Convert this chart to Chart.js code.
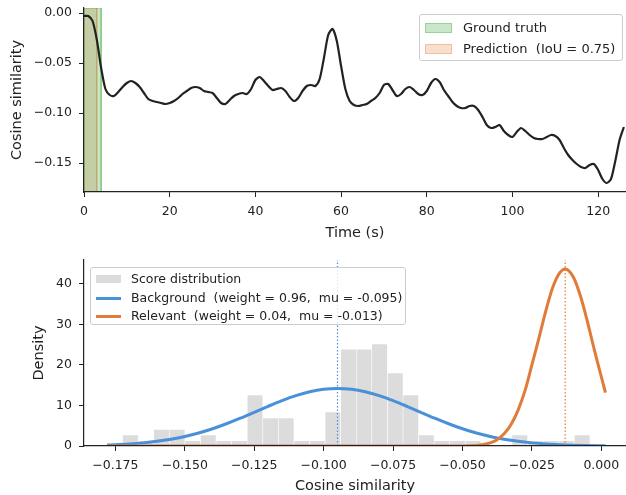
<!DOCTYPE html>
<html>
<head>
<meta charset="utf-8">
<script src="https://cdn.jsdelivr.net/npm/chart.js@4.4.1/dist/chart.umd.min.js"></script>
<style>
  body { margin: 0; background: #fff; font-family: "DejaVu Sans", sans-serif; color: #222; }
  #wrap { position: relative; width: 626px; height: 495px; overflow: hidden; }
  canvas { position: absolute; left: 0; }
  #topChart { top: 0; }
  #bottomChart { top: 247px; }
  .legend { position: absolute; background: rgba(255,255,255,0.8); border: 1px solid #cccccc; border-radius: 3px; box-sizing: border-box; }
  .row { position: absolute; left: 0; height: 16px; line-height: 16px; white-space: pre; }
  .patch { position: absolute; box-sizing: border-box; }
  .txt { position: absolute; top: 0; }
</style>
</head>
<body>
<div id="wrap">
  <canvas id="topChart" width="626" height="247"></canvas>
  <canvas id="bottomChart" width="626" height="248"></canvas>

  <div class="legend" style="left:419px; top:14px; width:204px; height:47px; font-size:13px;">
    <div class="row" style="top:5px;">
      <div class="patch" style="left:5px; top:3px; width:27px; height:10px; background:rgba(44,160,44,0.25); border:1px solid rgba(44,160,44,0.3);"></div>
      <span class="txt" style="left:43px;">Ground truth</span>
    </div>
    <div class="row" style="top:26px;">
      <div class="patch" style="left:5px; top:3px; width:27px; height:10px; background:rgba(224,123,57,0.25); border:1px solid rgba(224,123,57,0.3);"></div>
      <span class="txt" style="left:43px;">Prediction  (IoU = 0.75)</span>
    </div>
  </div>

  <div class="legend" style="left:90px; top:267px; width:316px; height:58px; font-size:12.5px;">
    <div class="row" style="top:3px;">
      <div class="patch" style="left:5px; top:4px; width:25px; height:8px; background:#dcdcdc;"></div>
      <span class="txt" style="left:40px;">Score distribution</span>
    </div>
    <div class="row" style="top:22px;">
      <div class="patch" style="left:5px; top:6.5px; width:25px; height:3px; background:#4a90d9;"></div>
      <span class="txt" style="left:40px;">Background  (weight = 0.96,  mu = -0.095)</span>
    </div>
    <div class="row" style="top:40px;">
      <div class="patch" style="left:5px; top:6.5px; width:25px; height:3px; background:#e07b39;"></div>
      <span class="txt" style="left:40px;">Relevant  (weight = 0.04,  mu = -0.013)</span>
    </div>
  </div>
</div>

<script>
// ---- top panel: cosine similarity over time ----
const times = [
  0,1,2,3,4,5,6,7,8,9,10,11,12,13,14,15,16,17,18,19,20,21,22,23,24,25,26,27,28,29,
  30,31,32,33,34,35,36,37,38,39,40,41,42,43,44,45,46,47,48,49,50,51,52,53,54,55,56,57,58,59,
  60,61,62,63,64,65,66,67,68,69,70,71,72,73,74,75,76,77,78,79,80,81,82,83,84,85,86,87,88,89,
  90,91,92,93,94,95,96,97,98,99,100,101,102,103,104,105,106,107,108,109,110,111,112,113,114,
  115,116,117,118,119,120,121,122,123,124,125,126
];
const scores = [
  -0.003,-0.003,-0.008,-0.027,-0.055,-0.076,-0.082,-0.083,-0.079,-0.074,
  -0.070,-0.068,-0.070,-0.074,-0.080,-0.086,-0.088,-0.089,-0.090,-0.091,
  -0.090,-0.088,-0.085,-0.081,-0.078,-0.075,-0.074,-0.075,-0.078,-0.079,
  -0.080,-0.085,-0.090,-0.091,-0.087,-0.083,-0.081,-0.080,-0.081,-0.076,
  -0.067,-0.064,-0.068,-0.073,-0.077,-0.076,-0.075,-0.078,-0.084,-0.088,
  -0.085,-0.078,-0.073,-0.072,-0.073,-0.066,-0.045,-0.022,-0.016,-0.028,
  -0.053,-0.076,-0.088,-0.092,-0.093,-0.092,-0.091,-0.088,-0.085,-0.080,
  -0.072,-0.071,-0.077,-0.083,-0.081,-0.076,-0.074,-0.077,-0.081,-0.082,
  -0.078,-0.070,-0.066,-0.069,-0.077,-0.083,-0.089,-0.093,-0.095,-0.095,
  -0.093,-0.093,-0.097,-0.104,-0.112,-0.115,-0.114,-0.112,-0.118,-0.122,
  -0.124,-0.119,-0.115,-0.118,-0.122,-0.125,-0.126,-0.126,-0.124,-0.122,
  -0.123,-0.127,-0.135,-0.142,-0.147,-0.151,-0.154,-0.155,-0.152,-0.151,
  -0.157,-0.166,-0.170,-0.166,-0.148,-0.127,-0.114
];
const groundTruth = [0, 4];   // seconds
const prediction = [0, 3];    // seconds
const topXTicks = [0, 20, 40, 60, 80, 100, 120];
const topYTicks = [-0.15, -0.10, -0.05, 0.00];

// ---- bottom panel: score histogram + mixture components ----
const binCenters = [
  -0.17520,-0.16959,-0.16398,-0.15837,-0.15276,-0.14715,-0.14154,-0.13593,
  -0.13032,-0.12471,-0.11910,-0.11349,-0.10788,-0.10227,-0.09666,-0.09105,
  -0.08544,-0.07983,-0.07422,-0.06861,-0.06300,-0.05739,-0.05178,-0.04617,
  -0.04056,-0.03495,-0.02934,-0.02373,-0.01812,-0.01251,-0.00690
];
const binDensity = [
  0, 2.7, 1.3, 4.1, 4.1, 1.3, 2.7, 1.3,
  1.3, 12.6, 6.9, 6.9, 1.3, 1.3, 8.4, 23.9,
  23.9, 25.2, 18.0, 12.6, 2.7, 1.3, 1.3, 1.3,
  0, 0, 2.7, 1.3, 1.3, 1.3, 2.7
];
const bgX = [
  -0.178,-0.175,-0.170,-0.165,-0.160,-0.155,-0.150,-0.145,-0.140,-0.135,-0.130,-0.125,
  -0.120,-0.115,-0.110,-0.105,-0.100,-0.095,-0.090,-0.085,-0.080,-0.075,-0.070,-0.065,
  -0.060,-0.055,-0.050,-0.045,-0.040,-0.035,-0.030,-0.025,-0.020,-0.015,-0.010,-0.005,0.0015
];
const bgDensity = [
  0.24,0.32,0.50,0.77,1.15,1.67,2.35,3.21,4.26,5.49,6.86,8.32,
  9.79,11.19,12.42,13.38,13.99,14.2,13.99,13.38,12.42,11.19,9.79,8.32,
  6.86,5.49,4.26,3.21,2.35,1.67,1.15,0.77,0.50,0.32,0.19,0.12,0.06
];
const relX = [
  -0.178,-0.100,-0.060,-0.050,-0.045,-0.0425,-0.040,-0.0375,-0.035,-0.0325,-0.030,-0.0275,
  -0.025,-0.0225,-0.020,-0.0175,-0.015,-0.013,-0.010,-0.0075,-0.005,-0.0025,0.000,0.0015
];
const relDensity = [
  0,0,0,0.02,0.15,0.35,0.77,1.57,3.0,5.3,8.8,13.6,
  20.0,26.5,33.3,39.1,42.7,43.7,41.6,37.0,30.7,23.7,17.1,13.2
];
const bgMu = -0.095;
const relMu = -0.013;
const bottomXTicks = [-0.175, -0.150, -0.125, -0.100, -0.075, -0.050, -0.025, 0.000];
const bottomYTicks = [0, 10, 20, 30, 40];

Chart.defaults.font.family = '"DejaVu Sans", sans-serif';
Chart.defaults.color = '#222';

const ink = '#222';
const fmt = (v, d) => (v < 0 ? '\u2212' : '') + Math.abs(v).toFixed(d);
const pts = (xs, ys) => xs.map((x, i) => ({ x: x, y: ys[i] }));

function axis(opts) {
  return Object.assign({
    type: 'linear',
    offset: false,
    grid: { display: true, offset: false, drawOnChartArea: false, drawTicks: true, tickLength: 5, tickColor: ink, tickWidth: 1 },
    border: { display: true, color: ink, width: 1.2, z: 1 },
  }, opts);
}
// fixed axis box sizes so the plot area lands where the reference has it
const fixW = w => s => { s.width = w; s.paddingTop = 0; s.paddingBottom = 0; };
const fixH = h => s => { s.height = h; s.paddingLeft = 0; s.paddingRight = 0; };

// top panel
const TOP_MIN = -0.179, TOP_MAX = 0.005;
const spanPts = ([a, b]) => [
  { x: a, y: TOP_MIN }, { x: a, y: TOP_MAX }, { x: b, y: TOP_MAX }, { x: b, y: TOP_MIN }
];

new Chart(document.getElementById('topChart'), {
  type: 'line',
  data: {
    datasets: [
      {
        data: pts(times, scores),
        borderColor: ink, borderWidth: 2.2, pointRadius: 0, tension: 0.25, fill: false, order: 0
      },
      {
        data: spanPts(groundTruth),
        borderColor: 'rgba(44,160,44,0.35)', borderWidth: 1,
        backgroundColor: 'rgba(44,160,44,0.25)', fill: 'start', pointRadius: 0, tension: 0, order: 1
      },
      {
        data: spanPts(prediction),
        borderColor: 'rgba(224,123,57,0.35)', borderWidth: 1,
        backgroundColor: 'rgba(224,123,57,0.25)', fill: 'start', pointRadius: 0, tension: 0, order: 2
      }
    ]
  },
  options: {
    responsive: false, animation: false, devicePixelRatio: 1,
    layout: { padding: { top: 8, right: 0, left: 0, bottom: 0 } },
    plugins: { legend: { display: false }, tooltip: { enabled: false } },
    scales: {
      x: axis({
        min: 0, max: 126.5,
        afterBuildTicks: s => { s.ticks = topXTicks.map(v => ({ value: v })); },
        afterFit: fixH(55),
        ticks: { callback: v => String(v), font: { size: 12.5 }, color: ink, padding: 7, maxRotation: 0, autoSkip: false },
        title: { display: true, text: 'Time (s)', font: { size: 14.5 }, color: ink, padding: { top: 0, bottom: 5 } }
      }),
      y: axis({
        min: TOP_MIN, max: TOP_MAX,
        afterBuildTicks: s => { s.ticks = topYTicks.map(v => ({ value: v })); },
        afterFit: fixW(84),
        ticks: { callback: v => fmt(v, 2), font: { size: 12.5 }, color: ink, padding: 7, autoSkip: false },
        title: { display: true, text: 'Cosine similarity', font: { size: 14.5 }, color: ink, padding: { top: 9, bottom: 0 } }
      })
    }
  }
});

// bottom panel
const BOT_MAX = 45.9;
new Chart(document.getElementById('bottomChart'), {
  type: 'line',
  data: {
    datasets: [
      {
        type: 'bar',
        data: pts(binCenters, binDensity),
        backgroundColor: '#dcdcdc', borderColor: '#ffffff',
        borderWidth: { left: 0.6, right: 0.6, top: 0.6, bottom: 0 },
        barPercentage: 1, categoryPercentage: 1, grouped: false, order: 4
      },
      {
        data: pts(bgX, bgDensity),
        borderColor: '#4a90d9', borderWidth: 3, pointRadius: 0, cubicInterpolationMode: 'monotone', fill: false, order: 3
      },
      {
        data: pts(relX, relDensity),
        borderColor: '#e07b39', borderWidth: 3, pointRadius: 0, cubicInterpolationMode: 'monotone', fill: false, order: 2
      },
      {
        data: [{ x: bgMu, y: 0 }, { x: bgMu, y: BOT_MAX }],
        borderColor: '#4a90d9', borderWidth: 1.2, borderDash: [1.5, 2], pointRadius: 0, fill: false, order: 1
      },
      {
        data: [{ x: relMu, y: 0 }, { x: relMu, y: BOT_MAX }],
        borderColor: '#e07b39', borderWidth: 1.2, borderDash: [1.5, 2], pointRadius: 0, fill: false, order: 0
      }
    ]
  },
  options: {
    responsive: false, animation: false, devicePixelRatio: 1,
    layout: { padding: { top: 13, right: 0, left: 0, bottom: 0 } },
    plugins: { legend: { display: false }, tooltip: { enabled: false } },
    scales: {
      x: axis({
        min: -0.1863, max: 0.0089,
        afterBuildTicks: s => { s.ticks = bottomXTicks.map(v => ({ value: v })); },
        afterFit: fixH(49),
        ticks: { callback: v => fmt(v, 3), font: { size: 12.5 }, color: ink, padding: 7, maxRotation: 0, autoSkip: false },
        title: { display: true, text: 'Cosine similarity', font: { size: 14.5 }, color: ink, padding: { top: 0, bottom: 0 } }
      }),
      y: axis({
        min: 0, max: BOT_MAX,
        afterBuildTicks: s => { s.ticks = bottomYTicks.map(v => ({ value: v })); },
        afterFit: fixW(84),
        ticks: { callback: v => String(v), font: { size: 12.5 }, color: ink, padding: 7, autoSkip: false },
        title: { display: true, text: 'Density', font: { size: 14.5 }, color: ink, padding: { top: 31, bottom: 0 } }
      })
    }
  }
});
</script>
</body>
</html>
